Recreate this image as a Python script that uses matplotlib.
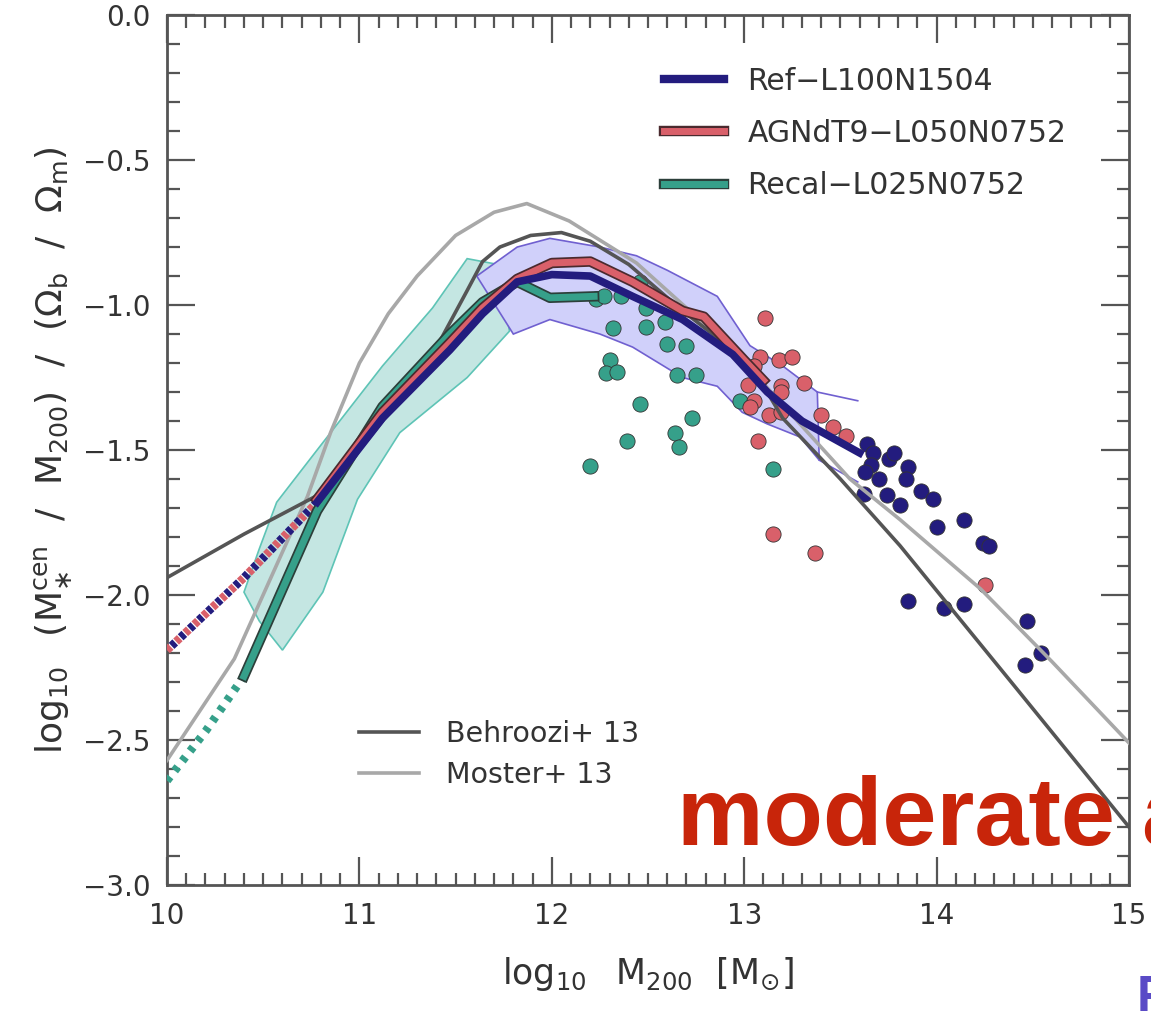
import numpy as np
import matplotlib
matplotlib.use("Agg")
import matplotlib.pyplot as plt
import matplotlib.patheffects as pe
from matplotlib.lines import Line2D
from matplotlib.ticker import MultipleLocator

plt.rcParams["mathtext.fontset"] = "dejavusans"

# --- abundance matching relations ---
behroozi_x = [10.0, 10.4, 10.8, 11.0, 11.3, 11.43, 11.56, 11.64, 11.73, 11.89, 12.05, 12.2, 12.4, 12.68, 13.03, 13.2, 13.5, 13.81, 14.4, 15.0]
behroozi_y = [-1.94, -1.79, -1.65, -1.50, -1.25, -1.11, -0.95, -0.85, -0.80, -0.76, -0.75, -0.78, -0.86, -1.02, -1.20, -1.39, -1.60, -1.83, -2.31, -2.80]
moster_x = [10.0, 10.35, 10.73, 10.85, 11.0, 11.15, 11.3, 11.5, 11.7, 11.87, 12.09, 12.44, 12.7, 12.99, 13.29, 13.55, 13.81, 14.23, 14.6, 15.0]
moster_y = [-2.57, -2.22, -1.66, -1.44, -1.20, -1.03, -0.90, -0.76, -0.68, -0.65, -0.71, -0.855, -1.01, -1.19, -1.41, -1.60, -1.74, -1.98, -2.23, -2.51]

# --- simulation medians ---
ref_x = [10.78, 11.12, 11.47, 11.64, 11.82, 12.0, 12.2, 12.42, 12.68, 12.94, 13.12, 13.3, 13.6]
ref_y = [-1.68, -1.39, -1.155, -1.03, -0.92, -0.895, -0.90, -0.97, -1.05, -1.17, -1.30, -1.40, -1.51]
ref_low_x = [10.0, 10.4, 10.78]
ref_low_y = [-2.19, -1.94, -1.68]
agn_x = [10.78, 11.12, 11.47, 11.64, 11.82, 12.0, 12.2, 12.42, 12.68, 12.79, 13.0, 13.1]
agn_y = [-1.67, -1.37, -1.13, -1.01, -0.91, -0.855, -0.85, -0.92, -1.02, -1.04, -1.19, -1.26]
recal_x = [10.40, 10.6, 10.78, 11.12, 11.47, 11.64, 11.82, 11.99, 12.22]
recal_y = [-2.28, -1.98, -1.71, -1.35, -1.10, -0.99, -0.92, -0.975, -0.97]
recal_low_x = [10.0, 10.2, 10.40]
recal_low_y = [-2.64, -2.47, -2.28]

# --- scatter bands ---
recal_band_up_x = [10.40, 10.48, 10.57, 10.78, 11.12, 11.38, 11.56, 11.72]
recal_band_up_y = [-1.99, -1.84, -1.68, -1.50, -1.21, -1.01, -0.84, -0.86]
recal_band_lo_x = [10.48, 10.60, 10.81, 10.99, 11.21, 11.56, 11.78]
recal_band_lo_y = [-2.09, -2.19, -1.99, -1.67, -1.44, -1.25, -1.09]
ref_band_up_x = [11.61, 11.82, 11.99, 12.25, 12.44, 12.60, 12.86, 13.03, 13.20, 13.38]
ref_band_up_y = [-0.90, -0.80, -0.77, -0.80, -0.83, -0.88, -0.97, -1.14, -1.21, -1.30]
ref_band_lo_x = [11.80, 11.99, 12.25, 12.42, 12.68, 12.86, 12.99, 13.12, 13.29, 13.39]
ref_band_lo_y = [-1.10, -1.05, -1.10, -1.145, -1.25, -1.28, -1.37, -1.41, -1.455, -1.535]
ref_tail_up_x = [13.38, 13.59]
ref_tail_up_y = [-1.30, -1.33]
ref_tail_lo_x = [13.39, 13.59]
ref_tail_lo_y = [-1.535, -1.61]

# --- individual haloes above the box limit ---
recal_pts_x = [12.23, 12.27, 12.36, 12.46, 12.49, 12.59, 12.49, 12.32, 12.60, 12.70, 12.30, 12.28, 12.34, 12.65, 12.75, 12.46, 12.73, 12.39, 12.64, 12.66, 12.20, 13.15, 12.98]
recal_pts_y = [-0.98, -0.97, -0.97, -0.92, -1.01, -1.06, -1.075, -1.08, -1.135, -1.14, -1.19, -1.235, -1.23, -1.24, -1.24, -1.34, -1.39, -1.47, -1.44, -1.49, -1.555, -1.565, -1.33]
agn_pts_x = [13.11, 13.08, 13.18, 13.25, 13.05, 13.02, 13.19, 13.19, 13.31, 13.05, 13.03, 13.13, 13.19, 13.40, 13.46, 13.53, 13.07, 13.15, 13.37, 14.25]
agn_pts_y = [-1.045, -1.18, -1.19, -1.18, -1.21, -1.275, -1.28, -1.30, -1.27, -1.33, -1.35, -1.38, -1.37, -1.38, -1.42, -1.45, -1.47, -1.79, -1.855, -1.965]
ref_pts_x = [13.64, 13.67, 13.66, 13.63, 13.75, 13.78, 13.85, 13.84, 13.70, 13.62, 13.74, 13.81, 13.92, 13.98, 14.00, 14.14, 14.24, 14.27, 13.85, 14.04, 14.14, 14.47, 14.54, 14.46]
ref_pts_y = [-1.48, -1.51, -1.55, -1.575, -1.53, -1.51, -1.56, -1.60, -1.60, -1.65, -1.655, -1.69, -1.64, -1.67, -1.765, -1.74, -1.82, -1.83, -2.02, -2.045, -2.03, -2.09, -2.20, -2.24]

x_ticks = [10, 11, 12, 13, 14, 15]
y_ticks = [0.0, -0.5, -1.0, -1.5, -2.0, -2.5, -3.0]

NAVY = "#231c7e"
RED = "#d9606a"
TEAL = "#36a08a"
TXT = "#333333"

fig = plt.figure(figsize=(11.51, 10.11), dpi=100, facecolor="white")
ax = fig.add_axes([0.1451, 0.1246, 0.8358, 0.8605])
ax.set_xlim(10, 15)
ax.set_ylim(-3.0, 0.0)

# bands
ax.fill(recal_band_up_x + recal_band_lo_x[::-1], recal_band_up_y + recal_band_lo_y[::-1],
        facecolor="#c4e6e2", edgecolor="#5ec4b6", lw=1.2, zorder=1)
ax.fill(ref_band_up_x + ref_band_lo_x[::-1], ref_band_up_y + ref_band_lo_y[::-1],
        facecolor="#d0d0fa", edgecolor="#7060d0", lw=1.2, zorder=1.2)
ax.plot(ref_tail_up_x, ref_tail_up_y, color="#7060d0", lw=1.2, zorder=1.2)
ax.plot(ref_tail_lo_x, ref_tail_lo_y, color="#7060d0", lw=1.2, zorder=1.2)

# points
dot = dict(s=120, edgecolors="#333333", linewidths=0.6, zorder=3)
ax.scatter(recal_pts_x, recal_pts_y, c=TEAL, **dot)
ax.scatter(agn_pts_x, agn_pts_y, c=RED, **dot)
ax.scatter(ref_pts_x, ref_pts_y, c=NAVY, **dot)

# abundance matching
ax.plot(moster_x, moster_y, color="#a8a8a8", lw=2.6, zorder=4)
ax.plot(behroozi_x, behroozi_y, color="#555555", lw=2.6, zorder=4)


def outline(c):
    return [pe.Stroke(linewidth=7.5, foreground=c), pe.Normal()]


# low-mass extrapolations (striped)
ax.plot(ref_low_x, ref_low_y, color=RED, lw=6, ls=(0, (0.6, 0.9)), zorder=5)
ax.plot(ref_low_x, ref_low_y, color=NAVY, lw=6, ls=(0.75, (0.6, 0.9)), zorder=5)
ax.plot(recal_low_x, recal_low_y, color=TEAL, lw=6, ls=(0, (0.6, 0.9)), zorder=5)

# medians
ax.plot(recal_x, recal_y, color=TEAL, lw=5, zorder=6, path_effects=outline("#2c3f3a"))
ax.plot(agn_x, agn_y, color=RED, lw=5, zorder=6, path_effects=outline("#4a2a2e"))
ax.plot(ref_x, ref_y, color=NAVY, lw=5.5, zorder=7)

# axes style
for s in ax.spines.values():
    s.set_color("#555555")
    s.set_linewidth(2)
ax.set_xticks(x_ticks)
ax.set_xticklabels([str(v) for v in x_ticks])
ax.set_yticks(y_ticks)
ax.set_yticklabels([f"{v:.1f}".replace("-", "\u2212") for v in y_ticks])
ax.xaxis.set_minor_locator(MultipleLocator(0.1))
ax.yaxis.set_minor_locator(MultipleLocator(0.1))
ax.tick_params(which="both", direction="in", top=True, right=True, color="#555555", width=1.6,
               labelsize=20, labelcolor=TXT)
ax.tick_params(which="major", length=20, pad=12)
ax.tick_params(which="minor", length=9)

ax.set_xlabel(r"$\log_{10}\ \ \mathrm{M}_{200}\ \ [\mathrm{M}_{\odot}]$", fontsize=25, color=TXT, labelpad=18)
ax.set_ylabel(r"$\log_{10}\ \ (\mathrm{M}_{\ast}^{\mathrm{cen}}\ \ /\ \ \mathrm{M}_{200})\ \ /\ \ (\Omega_{\mathrm{b}}\ \ /\ \ \Omega_{\mathrm{m}})$",
              fontsize=26, color=TXT, labelpad=6)

# legends
sim_handles = [
    Line2D([0], [0], color=NAVY, lw=6),
    Line2D([0], [0], color=RED, lw=5, path_effects=outline("#4a2a2e")),
    Line2D([0], [0], color=TEAL, lw=5, path_effects=outline("#2c3f3a")),
]
leg1 = ax.legend(sim_handles, ["Ref\u2212L100N1504", "AGNdT9\u2212L050N0752", "Recal\u2212L025N0752"],
                 loc="upper left", bbox_to_anchor=(0.501, 0.958), frameon=False, fontsize=21.5,
                 handlelength=2.0, handletextpad=0.8, labelspacing=0.78, borderpad=0,
                 labelcolor=TXT)
ax.add_artist(leg1)
am_handles = [
    Line2D([0], [0], color="#555555", lw=2.6),
    Line2D([0], [0], color="#a8a8a8", lw=2.6),
]
ax.legend(am_handles, ["Behroozi+ 13", "Moster+ 13"], loc="upper left", bbox_to_anchor=(0.185, 0.206),
          frameon=False, fontsize=20.5, handlelength=2.1, handletextpad=0.95, labelspacing=0.45,
          borderpad=0, labelcolor=TXT)

# slide overlay text
fig.text(677 / 1151, 1 - 845 / 1011, "moderate agreement", fontsize=70, fontweight="bold",
         family="Liberation Sans", color="#c8250a", va="baseline", ha="left", zorder=10)
fig.text(1137 / 1151, 1 - 975 / 1011, "P", fontsize=36, fontweight="bold",
         family="Liberation Sans", color="#5a4bc6", va="top", ha="left")

fig.savefig("out.png", dpi=100, facecolor="white")
